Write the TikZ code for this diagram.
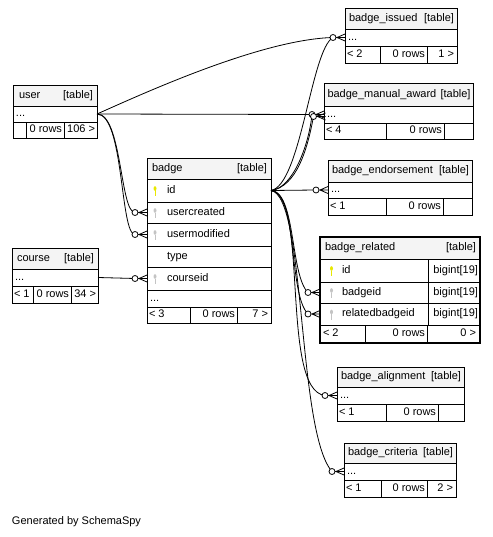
\documentclass[tikz,border=0pt]{standalone}
\usepackage{fontspec}
\setmainfont{Liberation Sans}
\usetikzlibrary{fit}
\definecolor{hdrgray}{HTML}{F4F4F4}
\definecolor{keyyel}{HTML}{E8E800}
\definecolor{keygray}{HTML}{C4C4C4}
\newcommand\crowmark[1]{%
  \draw[conn] ([xshift=-9]#1) -- (#1) ([xshift=-8]#1) -- ([yshift=3.5]#1) ([xshift=-8]#1) -- ([yshift=-3.5]#1);
  \draw[conn,fill=white] ([xshift=-12]#1) circle (3pt);
}
\newcommand\keyicon[2]{%
  \begin{scope}[shift={(#1)}]
    \fill[#2] (0,-2) ellipse (1.5pt and 2.3pt);
    \draw[#2,line width=0.9pt] (0,0) -- (0,5.5);
  \end{scope}
}
\begin{document}
\begin{tikzpicture}[x=1pt,y=-1pt,
  every node/.style={font=\fontsize{11}{13}\selectfont},
  cell/.style={draw=black,line width=0.8pt,inner sep=0pt,outer sep=0pt},
  hcell/.style={cell,fill=hdrgray},
  txt/.style={inner sep=0pt,outer sep=0pt,text height=8pt,text depth=2.5pt},
  ltxt/.style={txt,anchor=west},
  rtxt/.style={txt,anchor=east},
  conn/.style={draw=black,line width=0.8pt}
]
\useasboundingbox (0,0) rectangle (492,537);

% ---------- user ----------
\node[hcell,fit={(13,85) (97,106)}] (user-h) {};
\node[cell,fit={(13,106) (97,122)}] (user-d) {};
\node[cell,fit={(13,122) (26,138)}] (user-f1) {};
\node[cell,fit={(26,122) (64,138)}] (user-f2) {};
\node[cell,fit={(64,122) (97,138)}] (user-f3) {};
\node[ltxt] (user-ht) at ([xshift=6]user-h.west) {user};
\node[rtxt] (user-hr) at ([xshift=-4]user-h.east) {[table]};
\node[ltxt] (user-dt) at ([xshift=3]user-d.west) {...};
\node[rtxt] (user-f2t) at ([xshift=-2]user-f2.east) {0 rows};
\node[rtxt] (user-f3t) at ([xshift=-2]user-f3.east) {106 >};

% ---------- badge_issued ----------
\node[hcell,fit={(345,8) (457,29)}] (issued-h) {};
\node[cell,fit={(345,29) (457,46)}] (issued-d) {};
\node[cell,fit={(345,46) (380,63)}] (issued-f1) {};
\node[cell,fit={(380,46) (427,63)}] (issued-f2) {};
\node[cell,fit={(427,46) (457,63)}] (issued-f3) {};
\node[ltxt] (issued-ht) at ([xshift=4]issued-h.west) {badge\_issued};
\node[rtxt] (issued-hr) at ([xshift=-3]issued-h.east) {[table]};
\node[ltxt] (issued-dt) at ([xshift=3]issued-d.west) {...};
\node[ltxt] (issued-f1t) at ([xshift=2]issued-f1.west) {< 2};
\node[rtxt] (issued-f2t) at ([xshift=-2]issued-f2.east) {0 rows};
\node[rtxt] (issued-f3t) at ([xshift=-3]issued-f3.east) {1 >};

% ---------- badge_manual_award ----------
\node[hcell,fit={(324,83) (473,106)}] (manual-h) {};
\node[cell,fit={(324,106) (473,123)}] (manual-d) {};
\node[cell,fit={(324,123) (386,139)}] (manual-f1) {};
\node[cell,fit={(386,123) (444,139)}] (manual-f2) {};
\node[cell,fit={(444,123) (473,139)}] (manual-f3) {};
\node[ltxt] (manual-ht) at ([xshift=3.5]manual-h.west) {badge\_manual\_award};
\node[rtxt] (manual-hr) at ([xshift=-2.5]manual-h.east) {[table]};
\node[ltxt] (manual-dt) at ([xshift=3]manual-d.west) {...};
\node[ltxt] (manual-f1t) at ([xshift=2]manual-f1.west) {< 4};
\node[rtxt] (manual-f2t) at ([xshift=-2]manual-f2.east) {0 rows};

% ---------- badge ----------
\node[hcell,fit={(147,158) (271,179)}] (badge-h) {};
\node[cell,fit={(147,179) (271,202)}] (badge-id) {};
\node[cell,fit={(147,202) (271,223)}] (badge-uc) {};
\node[cell,fit={(147,223) (271,246)}] (badge-um) {};
\node[cell,fit={(147,246) (271,267)}] (badge-ty) {};
\node[cell,fit={(147,267) (271,290)}] (badge-ci) {};
\node[cell,fit={(147,290) (271,307)}] (badge-d) {};
\node[cell,fit={(147,307) (190,323)}] (badge-f1) {};
\node[cell,fit={(190,307) (237,323)}] (badge-f2) {};
\node[cell,fit={(237,307) (271,323)}] (badge-f3) {};
\node[ltxt] (badge-ht) at ([xshift=5]badge-h.west) {badge};
\node[rtxt] (badge-hr) at ([xshift=-4]badge-h.east) {[table]};
\node[ltxt] (badge-idt) at ([xshift=20]badge-id.west) {id};
\node[ltxt] (badge-uct) at ([xshift=20]badge-uc.west) {usercreated};
\node[ltxt] (badge-umt) at ([xshift=20]badge-um.west) {usermodified};
\node[ltxt] (badge-tyt) at ([xshift=20]badge-ty.west) {type};
\node[ltxt] (badge-cit) at ([xshift=20]badge-ci.west) {courseid};
\node[ltxt] (badge-dt) at ([xshift=3]badge-d.west) {...};
\node[ltxt] (badge-f1t) at ([xshift=2]badge-f1.west) {< 3};
\node[rtxt] (badge-f2t) at ([xshift=-2]badge-f2.east) {0 rows};
\node[rtxt] (badge-f3t) at ([xshift=-3]badge-f3.east) {7 >};
\keyicon{[xshift=8]badge-id.west}{keyyel}
\keyicon{[xshift=8]badge-uc.west}{keygray}
\keyicon{[xshift=8]badge-um.west}{keygray}
\keyicon{[xshift=8]badge-ci.west}{keygray}

% ---------- course ----------
\node[hcell,fit={(12,248) (98,269)}] (course-h) {};
\node[cell,fit={(12,269) (98,286)}] (course-d) {};
\node[cell,fit={(12,286) (33,303)}] (course-f1) {};
\node[cell,fit={(33,286) (71,303)}] (course-f2) {};
\node[cell,fit={(71,286) (98,303)}] (course-f3) {};
\node[ltxt] (course-ht) at ([xshift=5]course-h.west) {course};
\node[rtxt] (course-hr) at ([xshift=-4]course-h.east) {[table]};
\node[ltxt] (course-dt) at ([xshift=3]course-d.west) {...};
\node[ltxt] (course-f1t) at ([xshift=2]course-f1.west) {< 1};
\node[rtxt] (course-f2t) at ([xshift=-2]course-f2.east) {0 rows};
\node[rtxt] (course-f3t) at ([xshift=-2]course-f3.east) {34 >};

% ---------- badge_endorsement ----------
\node[hcell,fit={(328,160) (472,182)}] (endorse-h) {};
\node[cell,fit={(328,182) (472,198)}] (endorse-d) {};
\node[cell,fit={(328,198) (386,215)}] (endorse-f1) {};
\node[cell,fit={(386,198) (443,215)}] (endorse-f2) {};
\node[cell,fit={(443,198) (472,215)}] (endorse-f3) {};
\node[ltxt] (endorse-ht) at ([xshift=4]endorse-h.west) {badge\_endorsement};
\node[rtxt] (endorse-hr) at ([xshift=-3]endorse-h.east) {[table]};
\node[ltxt] (endorse-dt) at ([xshift=3]endorse-d.west) {...};
\node[ltxt] (endorse-f1t) at ([xshift=2]endorse-f1.west) {< 1};
\node[rtxt] (endorse-f2t) at ([xshift=-2]endorse-f2.east) {0 rows};

% ---------- badge_related ----------
\node[hcell,fit={(320,237) (480,259)}] (related-h) {};
\node[cell,fit={(320,259) (428,282)}] (related-id) {};
\node[cell,fit={(428,259) (480,282)}] (related-idy) {};
\node[cell,fit={(320,282) (428,303)}] (related-bid) {};
\node[cell,fit={(428,282) (480,303)}] (related-bidy) {};
\node[cell,fit={(320,303) (428,325)}] (related-rbid) {};
\node[cell,fit={(428,303) (480,325)}] (related-rbidy) {};
\node[cell,fit={(320,325) (365,343)}] (related-f1) {};
\node[cell,fit={(365,325) (427,343)}] (related-f2) {};
\node[cell,fit={(427,325) (480,343)}] (related-f3) {};
\draw[line width=2.6pt] (related-h.north west) rectangle (related-f3.south east);
\node[ltxt] (related-ht) at ([xshift=5]related-h.west) {badge\_related};
\node[rtxt] (related-hr) at ([xshift=-4]related-h.east) {[table]};
\node[ltxt] (related-idt) at ([xshift=22]related-id.west) {id};
\node[ltxt] (related-bidt) at ([xshift=22]related-bid.west) {badgeid};
\node[ltxt] (related-rbidt) at ([xshift=22]related-rbid.west) {relatedbadgeid};
\node[rtxt] (related-idyt) at ([xshift=-2]related-idy.east) {bigint[19]};
\node[rtxt] (related-bidyt) at ([xshift=-2]related-bidy.east) {bigint[19]};
\node[rtxt] (related-rbidyt) at ([xshift=-2]related-rbidy.east) {bigint[19]};
\node[ltxt] (related-f1t) at ([xshift=3]related-f1.west) {< 2};
\node[rtxt] (related-f2t) at ([xshift=-2]related-f2.east) {0 rows};
\node[rtxt] (related-f3t) at ([xshift=-4]related-f3.east) {0 >};
\keyicon{[xshift=11.5]related-id.west}{keyyel}
\keyicon{[xshift=11.5]related-bid.west}{keygray}
\keyicon{[xshift=11.5]related-rbid.west}{keygray}

% ---------- badge_alignment ----------
\node[hcell,fit={(337,367) (464,387)}] (align-h) {};
\node[cell,fit={(337,387) (464,404)}] (align-d) {};
\node[cell,fit={(337,404) (386,421)}] (align-f1) {};
\node[cell,fit={(386,404) (438,421)}] (align-f2) {};
\node[cell,fit={(438,404) (464,421)}] (align-f3) {};
\node[ltxt] (align-ht) at ([xshift=4]align-h.west) {badge\_alignment};
\node[rtxt] (align-hr) at ([xshift=-3]align-h.east) {[table]};
\node[ltxt] (align-dt) at ([xshift=3]align-d.west) {...};
\node[ltxt] (align-f1t) at ([xshift=2]align-f1.west) {< 1};
\node[rtxt] (align-f2t) at ([xshift=-2]align-f2.east) {0 rows};

% ---------- badge_criteria ----------
\node[hcell,fit={(344,443) (456,463)}] (crit-h) {};
\node[cell,fit={(344,463) (456,480)}] (crit-d) {};
\node[cell,fit={(344,480) (381,497)}] (crit-f1) {};
\node[cell,fit={(381,480) (427,497)}] (crit-f2) {};
\node[cell,fit={(427,480) (456,497)}] (crit-f3) {};
\node[ltxt] (crit-ht) at ([xshift=4]crit-h.west) {badge\_criteria};
\node[rtxt] (crit-hr) at ([xshift=-3]crit-h.east) {[table]};
\node[ltxt] (crit-dt) at ([xshift=3]crit-d.west) {...};
\node[ltxt] (crit-f1t) at ([xshift=2]crit-f1.west) {< 1};
\node[rtxt] (crit-f2t) at ([xshift=-2]crit-f2.east) {0 rows};
\node[rtxt] (crit-f3t) at ([xshift=-3]crit-f3.east) {2 >};

\node[ltxt] (gen) at (12,522) {Generated by SchemaSpy};

% ---------- connectors ----------
\coordinate (manual-d2) at ([xshift=1.5,yshift=-2]manual-d.west);
% from user
\draw[conn] (user-d.east) .. controls +(43,-19) and +(-73,2) .. ([xshift=-12]issued-d.west);
\draw[conn] (user-d.east) -- ([xshift=-12]manual-d.west);
\draw[conn] (user-d.east) .. controls +(25,0) and +(-15,0) .. ([xshift=-12]badge-uc.west);
\draw[conn] (user-d.east) .. controls +(27,0) and +(-15,0) .. ([xshift=-12]badge-um.west);
% from course
\draw[conn] (course-d.east) -- ([xshift=-12]badge-ci.west);
% from badge
\draw[conn] (badge-id.east) .. controls +(30,-5.5) and +(-22,12) .. ([xshift=-12]issued-d.west);
\draw[conn] (badge-id.east) .. controls +(22,-2) and +(-3,30) .. ([xshift=-12]manual-d.west);
\draw[conn] (badge-id.east) .. controls +(26,-4) and +(-6,32) .. ([xshift=-12]manual-d2);
\draw[conn] (badge-id.east) -- ([xshift=-12]endorse-d.west);
\draw[conn] (badge-id.east) .. controls +(25,1.5) and +(-18,-17.5) .. ([xshift=-12]related-bid.west);
\draw[conn] (badge-id.east) .. controls +(27,1) and +(-20,-20) .. ([xshift=-12]related-rbid.west);
\draw[conn] (badge-id.east) .. controls +(38,5) and +(-45,-5) .. ([xshift=-12]align-d.west);
\draw[conn] (badge-id.east) .. controls +(35,5) and +(-35,-40) .. ([xshift=-12]crit-d.west);

% ---------- crow's feet with circles ----------
\crowmark{issued-d.west}
\crowmark{manual-d.west}
\crowmark{manual-d2}
\crowmark{badge-uc.west}
\crowmark{badge-um.west}
\crowmark{badge-ci.west}
\crowmark{endorse-d.west}
\crowmark{related-bid.west}
\crowmark{related-rbid.west}
\crowmark{align-d.west}
\crowmark{crit-d.west}
\end{tikzpicture}
\end{document}
